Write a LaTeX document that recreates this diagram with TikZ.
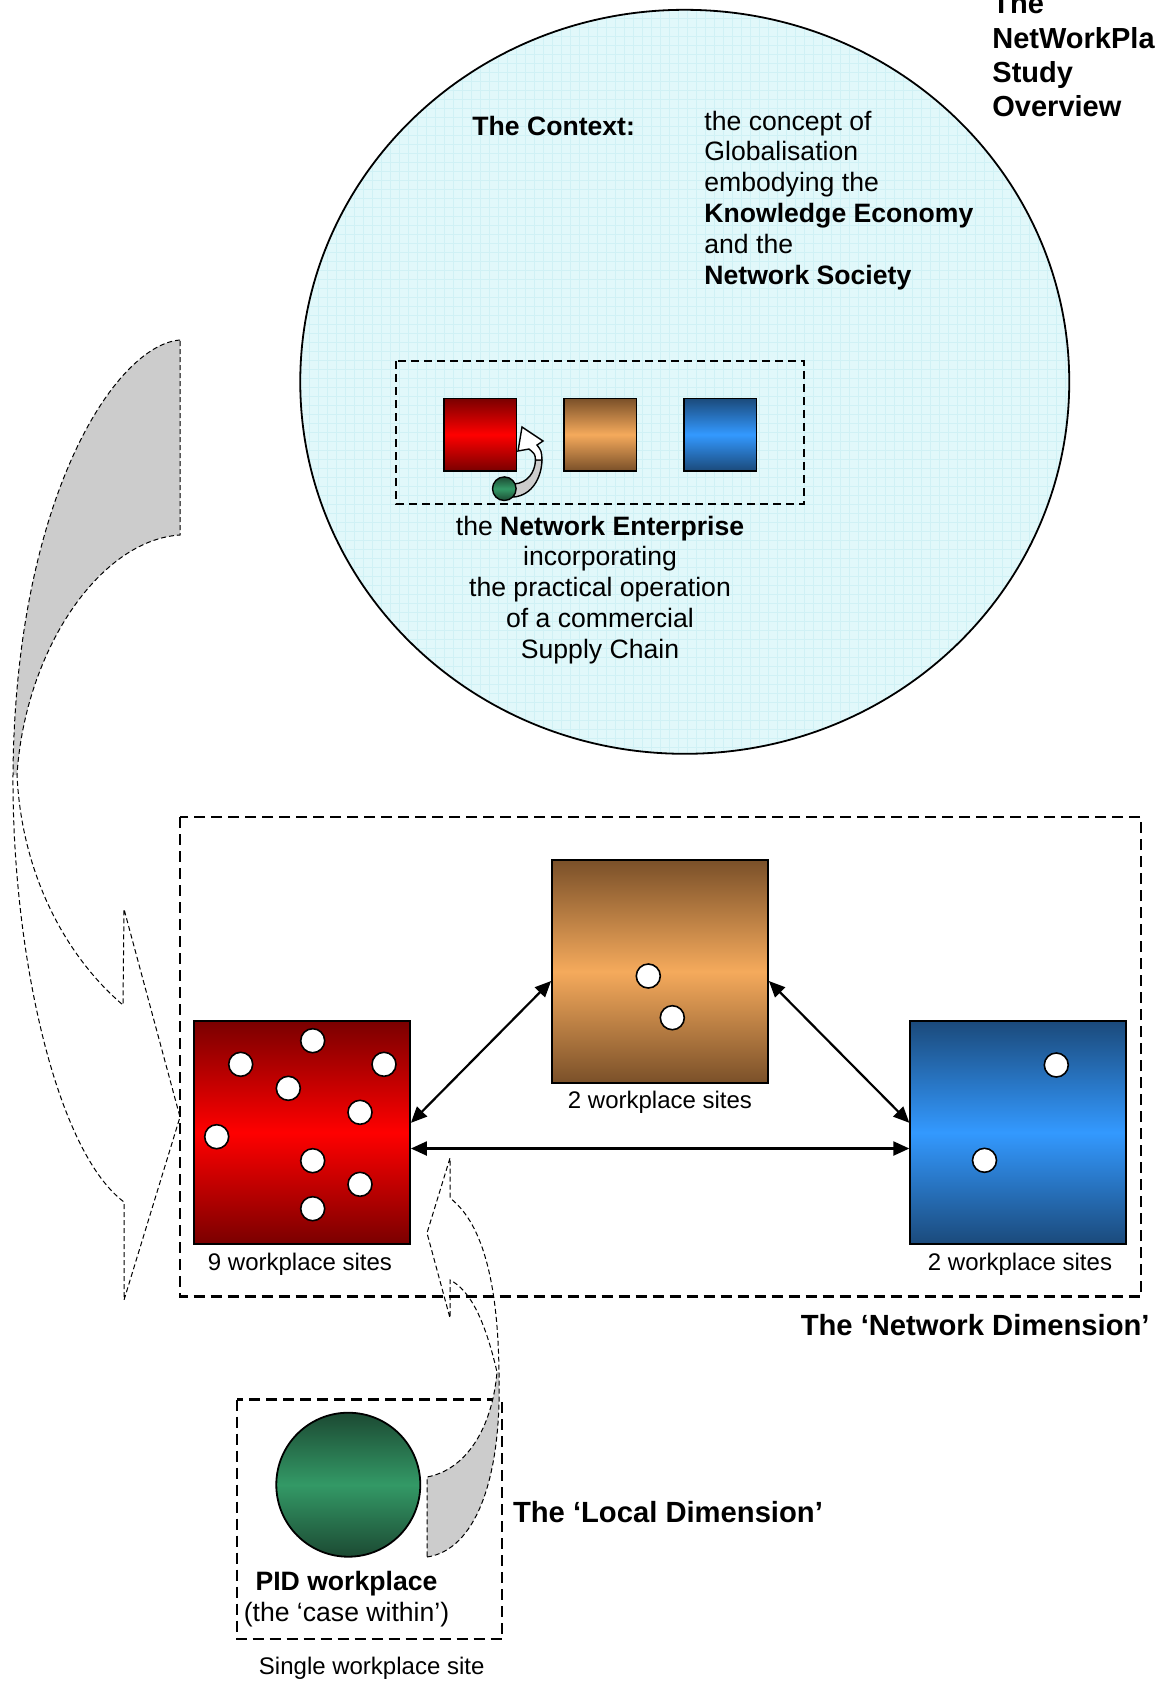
\documentclass[tikz,border=0pt]{standalone}
\usepackage{fontspec}
\setmainfont{Liberation Sans}
\usetikzlibrary{arrows.meta}

\definecolor{ctxfill}{HTML}{E1F8FA}
\definecolor{ctxgrid}{HTML}{D0F1F5}
\definecolor{rdark}{HTML}{7A0000}
\definecolor{rmid}{HTML}{FF0000}
\definecolor{tdark}{HTML}{7A5029}
\definecolor{tmid}{HTML}{F5AA5C}
\definecolor{bdark}{HTML}{1B4A7B}
\definecolor{bmid}{HTML}{3399FF}
\definecolor{gdark}{HTML}{1C4A33}
\definecolor{gmid}{HTML}{339966}
\definecolor{ribbongrey}{HTML}{CCCCCC}

\begin{document}
\begin{tikzpicture}[x=0.5pt,y=-0.5pt,
  txt/.style={inner sep=0pt, font=\fontsize{13.3}{16}\selectfont},
  ttl/.style={inner sep=0pt, font=\fontsize{14.5}{17}\selectfont\bfseries},
  dimlabel/.style={inner sep=0pt, font=\fontsize{14.6}{17}\selectfont\bfseries},
  caption/.style={inner sep=0pt, font=\fontsize{12}{14}\selectfont},
  redshade/.style={top color=rdark, bottom color=rdark, middle color=rmid},
  tanshade/.style={top color=tdark, bottom color=tdark, middle color=tmid},
  blueshade/.style={top color=bdark, bottom color=bdark, middle color=bmid},
  greenshade/.style={top color=gdark, bottom color=gdark, middle color=gmid},
  sitebox/.style={draw=black, line width=0.9pt, inner sep=0pt, minimum width=108pt, minimum height=111.5pt},
  minibox/.style={draw=black, line width=0.8pt, inner sep=0pt, minimum width=36.3pt, minimum height=36.2pt},
  site/.style={circle, draw=black, fill=white, line width=0.8pt, inner sep=0pt, minimum size=12pt},
  link/.style={{Triangle[length=8pt,width=7pt]}-{Triangle[length=8pt,width=7pt]}, line width=1.1pt},
  zone/.style={dash pattern=on 5.5pt off 3pt, line width=1.25pt},
  innerzone/.style={dash pattern=on 4pt off 2.5pt, line width=0.85pt},
  ribbon/.style={dash pattern=on 2.5pt off 1.5pt, line width=0.5pt},
  gridline/.style={ctxgrid, line width=0.35pt}]

\useasboundingbox (0,0) rectangle (1155,1682);
\clip (0,0) rectangle (1155,1682);

% ---------- the context sphere ----------
\begin{scope}
  \clip (684.75,381.8) ellipse [x radius=192.25pt, y radius=186pt];
  \fill[ctxfill] (295,5) rectangle (1075,760);
  \foreach \g in {0,...,86} \draw[gridline] ({300+9*\g},5) -- ({300+9*\g},760);
  \foreach \g in {0,...,84} \draw[gridline] (295,{9+9*\g}) -- (1075,{9+9*\g});
\end{scope}
\draw[line width=0.9pt] (684.75,381.8) ellipse [x radius=192.25pt, y radius=186pt];

% title
\node[ttl, anchor=base west] (ttl1) at (992,13.7) {The};
\node[ttl, anchor=base west] (ttl2) at (992,48) {NetWorkPla};
\node[ttl, anchor=base west] (ttl3) at (992,82.3) {Study};
\node[ttl, anchor=base west] (ttl4) at (992,116.6) {Overview};

% context text
\node[txt, font=\fontsize{13.3}{16}\selectfont\bfseries, anchor=base west] (ctx) at (472,135) {The Context:};
\node[txt, anchor=base west] (c1) at (704,130) {the concept of};
\node[txt, anchor=base west] (c2) at (704,160.8) {Globalisation};
\node[txt, anchor=base west] (c3) at (704,191.6) {embodying the};
\node[txt, anchor=base west] (c4) at (704,222.4) {\bfseries Knowledge Economy};
\node[txt, anchor=base west] (c5) at (704,253.2) {and the};
\node[txt, anchor=base west] (c6) at (704,284) {\bfseries Network Society};

% supply chain in miniature
\draw[innerzone] (396,361) rectangle (804,504);
\node[minibox, redshade] (mred) at (480.35,434.5) {};
\node[minibox, tanshade] (mtan) at (600.35,434.5) {};
\node[minibox, blueshade] (mblue) at (720.35,434.5) {};
% small curved arrow from the workplace back to its company
\draw[line width=0.7pt, fill=ribbongrey] (514,484) .. controls (528,483) and (535,472) .. (535.5,460)
  -- (542,460) .. controls (541.5,478) and (532,495) .. (514,497) -- cycle;
\draw[line width=0.7pt, fill=white] (535.5,460) .. controls (535,454) .. (529,449)
  -- (518,451) -- (522,427) -- (543,441) -- (537,445) .. controls (541.5,451) .. (542,460) -- cycle;
\node[circle, draw=black, line width=0.7pt, greenshade, inner sep=0pt, minimum size=11.8pt] (mpid) at (504.3,488.7) {};

\node[txt, anchor=base] (e1) at (600,535) {the \textbf{Network Enterprise}};
\node[txt, anchor=base] (e2) at (600,565.8) {incorporating};
\node[txt, anchor=base] (e3) at (600,596.6) {the practical operation};
\node[txt, anchor=base] (e4) at (600,627.4) {of a commercial};
\node[txt, anchor=base] (e5) at (600,658.2) {Supply Chain};

% ---------- the network dimension ----------
\draw[zone] (180,817) rectangle (1141,1296.5);

\node[sitebox, redshade] (red) at (302,1132.5) {};
\node[sitebox, tanshade] (tan) at (660,971.5) {};
\node[sitebox, blueshade] (blue) at (1018.25,1132.5) {};

\node[site] (r1) at (312.7,1040.7) {};
\node[site] (r2) at (240.7,1064.3) {};
\node[site] (r3) at (384,1064.3) {};
\node[site] (r4) at (288.3,1088.3) {};
\node[site] (r5) at (360,1112.3) {};
\node[site] (r6) at (216.7,1136.7) {};
\node[site] (r7) at (312.7,1160.7) {};
\node[site] (r8) at (360,1184.3) {};
\node[site] (r9) at (312.7,1208.7) {};

\node[site] (t1) at (648.3,976) {};
\node[site] (t2) at (672.3,1017.7) {};

\node[site] (b1) at (1056.3,1065) {};
\node[site] (b2) at (984.5,1160.3) {};

\node[caption, anchor=base] (lred) at (300,1270) {9 workplace sites};
\node[caption, anchor=base] (ltan) at (660,1108.5) {2 workplace sites};
\node[caption, anchor=base] (lblue) at (1020,1270) {2 workplace sites};

\draw[link] ([yshift=4.85pt]red.east) -- ([yshift=-4.75pt]tan.west);
\draw[link] ([yshift=-4.75pt]tan.east) -- ([yshift=4.85pt]blue.west);
\draw[link] ([yshift=-8pt]red.east) -- ([yshift=-8pt]blue.west);

\node[dimlabel, anchor=base east] (netdim) at (1150,1335) {The ‘Network Dimension’};

% ---------- the local dimension ----------
\draw[zone] (237,1399.5) rectangle (502,1639);
\node[circle, draw=black, line width=0.9pt, greenshade, inner sep=0pt, minimum size=72pt] (pid) at (348.3,1484.7) {};
\node[txt, anchor=base, font=\fontsize{13.3}{16}\selectfont\bfseries] (pidname) at (346.5,1590) {PID workplace};
\node[txt, anchor=base] (pidnote) at (346.5,1621.5) {(the ‘case within’)};
\node[caption, anchor=base] (pidcap) at (371.7,1674) {Single workplace site};
\node[dimlabel, anchor=base west] (locdim) at (512.6,1522.5) {The ‘Local Dimension’};

% ---------- twisted curved arrows ----------
% from the context down to the network
\fill[ribbongrey] (180,340) .. controls (115,345) and (15,500) .. (13,775)
  -- (17,775) .. controls (25,650) and (100,540) .. (180,535) -- cycle;
\draw[ribbon] (180,340) .. controls (115,345) and (15,500) .. (13,775)
  .. controls (12,950) and (55,1150) .. (124,1202)
  -- (124,1300) -- (180,1117) -- (124,909) -- (123,1005)
  .. controls (70,960) and (22,880) .. (17,775)
  .. controls (25,650) and (100,540) .. (180,535) -- cycle;

% from the workplace up to the network
\fill[ribbongrey] (427,1477) .. controls (465,1470) and (492,1430) .. (497,1372)
  -- (499,1372) .. controls (502,1480) and (475,1550) .. (427,1557) -- cycle;
\draw[ribbon] (427,1557) .. controls (475,1550) and (502,1480) .. (499,1372)
  .. controls (498,1290) and (485,1225) .. (450,1198)
  -- (450,1158) -- (427,1233) -- (450,1318) -- (450,1280)
  .. controls (470,1290) and (485,1320) .. (497,1372)
  .. controls (492,1430) and (465,1470) .. (427,1477) -- cycle;

\end{tikzpicture}
\end{document}
